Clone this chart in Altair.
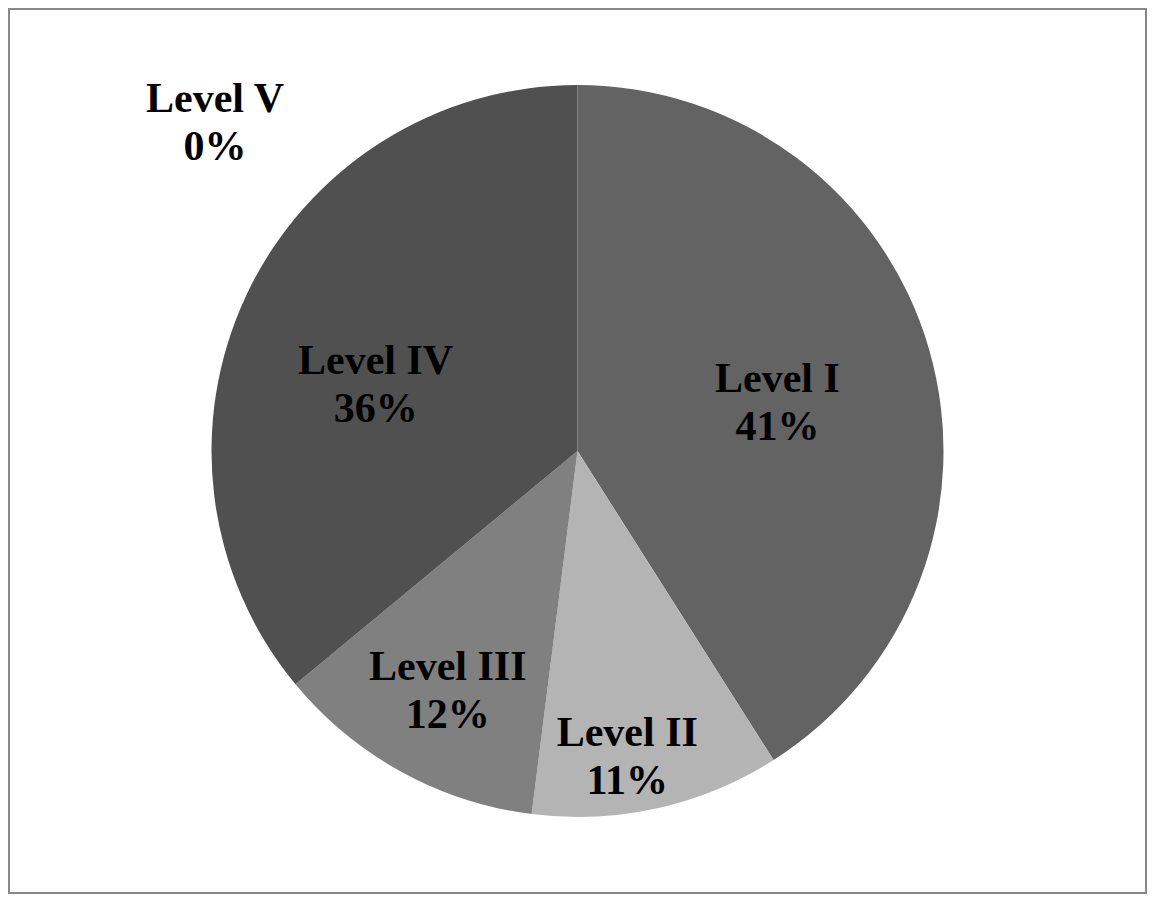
import altair as alt
import pandas as pd
import numpy as np

# ---- data ----
levels = ["Level I", "Level II", "Level III", "Level IV", "Level V"]
shares = [41, 11, 12, 36, 0]
pct_labels = ["41%", "11%", "12%", "36%", "0%"]

# ---- styling / placement config ----
colors = ["#636363", "#b4b4b4", "#808080", "#505050", "#3a3a3a"]
label_radius = {"Level I": 206, "Level II": 308, "Level III": 271, "Level IV": 213, "Level V": 490}
label_angle_shift_deg = {"Level I": 2.2, "Level II": 3.3, "Level III": -0.2, "Level IV": -6.6, "Level V": -47.7}

df = pd.DataFrame({"level": levels, "share": shares, "pct": pct_labels})
df["idx"] = range(len(df))
total = df["share"].sum()
cum = df["share"].cumsum() - df["share"] / 2
df["mid"] = cum / total * 2 * np.pi + df["level"].map(label_angle_shift_deg) * np.pi / 180
df["lr"] = df["level"].map(label_radius)
df["label"] = df["level"] + "\n" + df["pct"]

W, H = 1139, 886

base = alt.Chart(df)

pie = base.mark_arc(outerRadius=366, stroke=None).encode(
    theta=alt.Theta("share:Q", stack=True),
    order=alt.Order("idx:Q"),
    color=alt.Color("level:N", scale=alt.Scale(domain=levels, range=colors), legend=None),
)

text = base.mark_text(
    font="Liberation Serif",
    fontWeight="bold",
    fontSize=42,
    lineHeight=48,
    lineBreak="\n",
    align="center",
    baseline="middle",
    dy=-22,
    color="black",
).encode(
    theta=alt.Theta("mid:Q", scale=None),
    radius=alt.Radius("lr:Q", scale=None),
    text="label:N",
)

frame = alt.Chart(pd.DataFrame({"f": [0]})).mark_rect(
    fill=None, stroke="#888888", strokeWidth=2
).encode(
    x=alt.value(1), x2=alt.value(W - 1), y=alt.value(1), y2=alt.value(H - 1)
)

chart = (
    alt.layer(pie, text, frame)
    .properties(width=W, height=H, padding=0, autosize=alt.AutoSizeParams(type="none"))
    .configure_view(stroke=None)
    .configure(background="white")
)

chart.save("out.html", embed_options={"renderer": "svg", "actions": False})
